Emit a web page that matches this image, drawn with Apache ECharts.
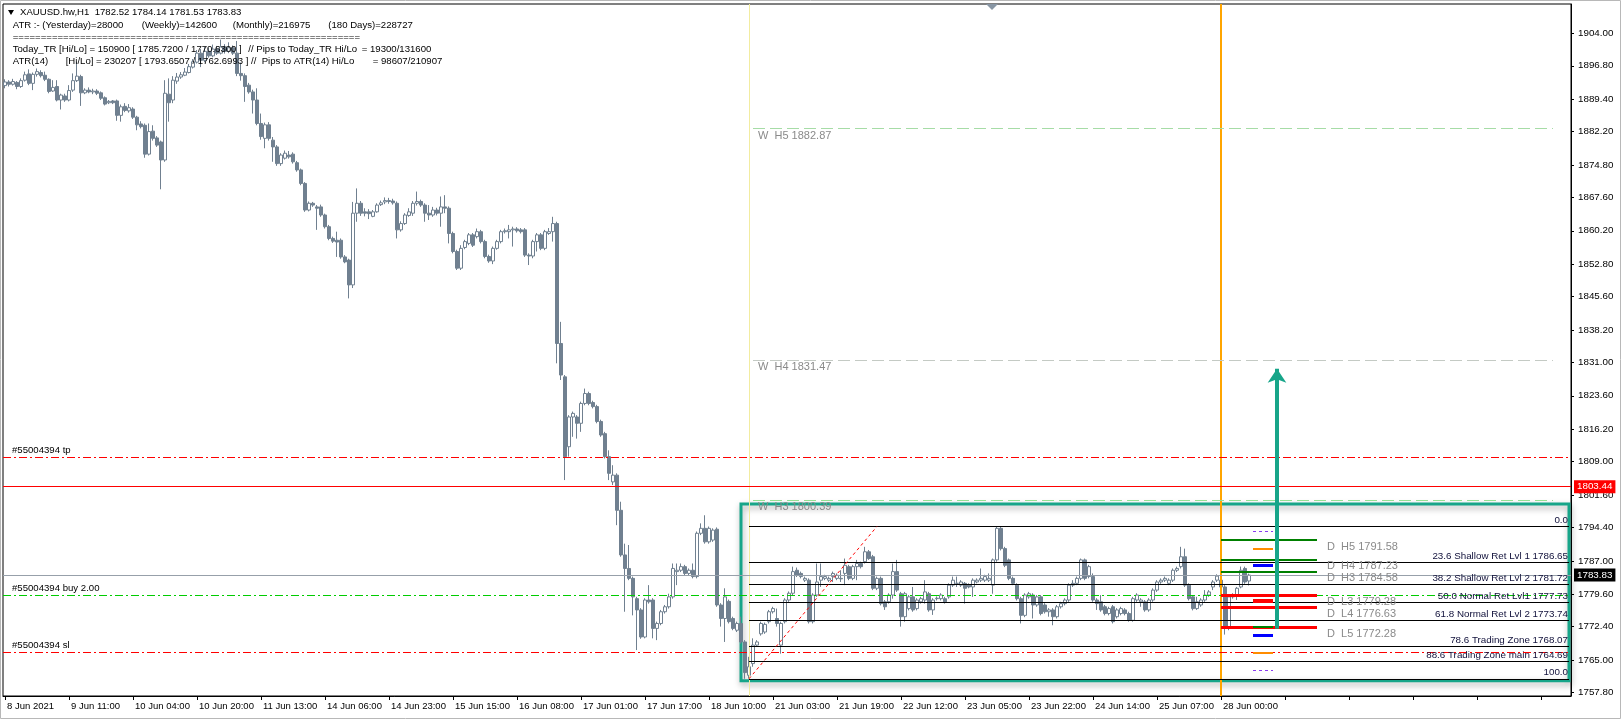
<!DOCTYPE html>
<html><head><meta charset="utf-8">
<script src="https://cdn.jsdelivr.net/npm/echarts@6/dist/echarts.min.js"></script>
<style>html,body{margin:0;padding:0;background:#fff}#c{width:1621px;height:719px}</style>
</head><body><div id="c"></div>
<script>
// ---------- DATA ----------
const timeLabels = ['8 Jun 2021','9 Jun 11:00','10 Jun 04:00','10 Jun 20:00','11 Jun 13:00','14 Jun 06:00','14 Jun 23:00','15 Jun 15:00','16 Jun 08:00','17 Jun 01:00','17 Jun 17:00','18 Jun 10:00','21 Jun 03:00','21 Jun 19:00','22 Jun 12:00','23 Jun 05:00','23 Jun 22:00','24 Jun 14:00','25 Jun 07:00','28 Jun 00:00'];
const priceTicks = [1757.80,1765.00,1772.40,1779.60,1787.00,1794.40,1801.60,1809.00,1816.20,1823.60,1831.00,1838.20,1845.60,1852.80,1860.20,1867.60,1874.80,1882.20,1889.40,1896.80,1904.00];
// [open, close, low, high], one per H1 bar
const ohlc = [
[1892.4,1893.2,1891.8,1893.8],[1893.2,1892.7,1892.2,1893.6],[1892.7,1893.3,1892.4,1893.9],[1893.1,1892.2,1891.6,1893.4],[1892.2,1893.5,1891.9,1894.0],
[1893.6,1894.8,1893.3,1895.5],[1895.0,1892.9,1892.5,1896.0],[1892.9,1894.9,1891.4,1895.3],[1894.9,1895.5,1894.4,1896.2],[1895.3,1894.6,1894.2,1895.8],
[1894.7,1893.8,1893.4,1895.5],[1893.8,1891.1,1890.7,1894.0],[1891.2,1892.0,1891.0,1893.6],[1892.2,1889.2,1888.9,1893.6],[1889.2,1890.3,1887.1,1890.6],
[1890.1,1889.2,1888.8,1890.6],[1889.2,1891.3,1888.9,1892.5],[1891.4,1893.5,1891.0,1895.1],[1893.5,1894.5,1893.2,1897.7],[1894.4,1890.8,1887.9,1894.8],
[1890.8,1891.4,1890.5,1891.8],[1891.4,1891.0,1890.7,1892.0],[1891.0,1891.2,1890.5,1891.7],[1891.2,1890.7,1890.3,1891.6],[1890.8,1889.6,1889.2,1891.1],
[1889.7,1888.3,1888.0,1890.0],[1888.6,1888.9,1888.3,1889.2],[1889.0,1888.6,1888.3,1889.2],[1889.0,1885.8,1884.6,1889.3],[1885.8,1887.7,1884.4,1888.2],
[1887.8,1886.9,1886.5,1888.5],[1886.8,1887.5,1886.4,1888.3],[1887.2,1885.4,1885.0,1887.6],[1885.4,1883.7,1882.5,1885.7],[1883.9,1883.3,1882.9,1884.5],
[1883.6,1877.2,1876.4,1884.0],[1877.2,1882.2,1876.9,1884.0],[1882.3,1880.7,1880.2,1883.6],[1880.8,1879.2,1878.8,1881.2],[1879.9,1875.9,1869.4,1880.2],
[1875.9,1890.7,1875.5,1893.6],[1890.5,1888.6,1884.4,1894.0],[1889.2,1893.6,1888.5,1894.5],[1893.4,1894.3,1892.8,1895.2],[1894.3,1894.8,1893.9,1895.4],
[1894.7,1895.4,1894.5,1896.3],[1895.3,1896.6,1895.1,1897.2],[1896.5,1897.7,1896.2,1898.3],[1897.6,1899.6,1897.3,1900.3],[1899.6,1898.0,1896.5,1900.5],
[1898.0,1900.0,1897.6,1901.0],[1900.0,1899.0,1898.6,1900.8],[1899.0,1900.5,1898.7,1901.5],[1900.5,1899.6,1899.2,1901.2],[1899.6,1901.0,1899.3,1902.6],
[1901.0,1900.0,1899.5,1901.6],[1900.0,1900.8,1899.6,1902.0],[1900.8,1899.6,1899.2,1901.3],[1899.6,1895.1,1894.5,1902.3],[1895.1,1894.6,1893.5,1897.5],
[1894.6,1892.2,1888.8,1895.1],[1892.5,1891.0,1890.6,1893.0],[1891.0,1889.2,1886.2,1891.5],[1889.2,1884.0,1883.6,1891.8],[1884.0,1881.1,1880.4,1886.2],
[1880.7,1883.7,1878.5,1884.2],[1883.7,1880.7,1880.2,1884.3],[1880.3,1878.8,1875.5,1881.0],[1878.8,1875.1,1874.6,1879.2],[1875.1,1877.0,1874.6,1877.4],
[1876.3,1877.4,1876.0,1878.0],[1877.0,1876.6,1876.2,1877.9],[1877.2,1875.5,1875.1,1877.6],[1875.3,1873.7,1873.3,1875.7],[1873.7,1870.7,1870.3,1874.0],
[1870.7,1864.8,1864.4,1871.0],[1864.8,1866.3,1864.5,1866.7],[1866.3,1865.9,1865.5,1866.6],[1865.5,1865.2,1860.4,1865.9],[1865.5,1863.7,1863.3,1866.0],
[1863.7,1861.1,1860.7,1864.0],[1861.1,1858.5,1858.1,1861.5],[1858.5,1857.9,1857.5,1858.9],[1858.1,1857.7,1854.4,1860.0],[1858.1,1854.4,1854.0,1858.5],
[1854.4,1853.3,1853.0,1854.8],[1853.7,1848.2,1845.2,1854.0],[1848.2,1864.1,1847.5,1866.6],[1864.1,1866.3,1862.2,1869.6],[1866.3,1864.1,1863.5,1866.8],
[1864.4,1864.1,1863.4,1865.2],[1864.4,1864.0,1862.8,1865.0],[1863.4,1864.4,1863.2,1864.8],[1864.4,1865.9,1864.2,1866.3],[1866.0,1866.4,1865.7,1866.9],
[1866.6,1866.9,1866.1,1867.6],[1866.9,1866.7,1866.2,1867.5],[1866.8,1866.4,1866.0,1867.3],[1866.3,1860.4,1858.5,1866.7],[1860.4,1861.8,1860.0,1862.3],
[1861.8,1863.7,1861.5,1864.1],[1863.6,1864.4,1863.3,1865.2],[1864.1,1866.3,1863.5,1866.8],[1866.3,1866.7,1865.8,1868.9],[1866.7,1865.9,1865.5,1867.1],
[1865.9,1864.1,1862.2,1866.3],[1864.1,1863.7,1862.6,1865.9],[1863.7,1864.8,1863.3,1865.5],[1864.8,1864.1,1863.6,1865.3],[1864.1,1865.5,1861.1,1867.8],
[1865.5,1865.2,1864.1,1868.1],[1865.2,1859.6,1857.4,1865.6],[1859.6,1855.6,1855.2,1860.0],[1855.6,1851.9,1851.5,1856.0],[1851.9,1856.3,1851.5,1857.0],
[1856.5,1857.8,1856.1,1858.2],[1857.4,1859.3,1857.0,1859.7],[1859.3,1857.0,1856.6,1859.7],[1858.9,1860.0,1858.5,1860.7],[1860.0,1857.8,1857.4,1860.4],
[1857.8,1854.5,1854.1,1858.2],[1854.5,1853.5,1853.1,1854.9],[1853.5,1856.3,1852.8,1856.7],[1856.3,1857.8,1856.0,1858.2],[1857.8,1860.0,1857.4,1860.4],
[1860.0,1860.2,1859.6,1860.7],[1860.0,1860.4,1858.5,1861.5],[1860.4,1860.6,1856.7,1861.1],[1860.6,1860.2,1859.8,1861.0],[1860.4,1860.0,1859.6,1860.8],
[1860.4,1854.8,1854.4,1860.8],[1854.8,1854.6,1852.6,1855.2],[1854.6,1857.8,1854.1,1858.2],[1857.8,1859.3,1855.6,1859.7],[1859.3,1856.3,1855.9,1859.7],
[1856.3,1860.0,1855.9,1860.4],[1859.6,1860.0,1859.3,1860.8],[1860.0,1861.8,1857.8,1863.3],[1861.8,1835.2,1830.8,1862.2],[1835.2,1828.2,1827.1,1840.0],
[1827.8,1810.1,1804.9,1828.2],[1812.3,1818.9,1810.1,1819.3],[1818.9,1819.7,1814.5,1820.1],[1818.9,1817.5,1814.1,1819.3],[1817.5,1821.9,1815.6,1822.3],
[1821.9,1824.1,1821.5,1825.2],[1824.1,1821.9,1821.5,1824.5],[1822.1,1821.2,1820.8,1822.5],[1821.2,1817.9,1817.5,1821.6],[1817.9,1814.9,1814.5,1818.3],
[1815.2,1810.1,1809.7,1815.6],[1810.1,1806.4,1804.9,1811.5],[1804.5,1806.0,1803.8,1808.2],[1806.0,1798.2,1794.9,1806.4],[1798.2,1788.3,1787.9,1800.1],
[1788.3,1785.3,1775.7,1790.8],[1785.3,1783.1,1782.7,1790.5],[1783.1,1779.0,1774.9,1783.5],[1778.6,1776.1,1767.2,1779.0],[1776.1,1770.1,1769.7,1776.5],
[1770.1,1778.3,1769.8,1778.7],[1778.3,1777.9,1777.5,1781.6],[1778.3,1772.0,1769.8,1778.7],[1772.0,1773.1,1769.4,1773.5],[1773.1,1775.7,1772.7,1776.1],
[1775.7,1776.8,1775.3,1777.2],[1776.8,1779.0,1776.4,1779.7],[1779.0,1785.3,1778.6,1786.4],[1784.6,1784.9,1781.6,1786.4],[1784.9,1785.7,1784.5,1786.4],
[1785.7,1784.2,1783.8,1786.1],[1784.2,1784.9,1783.8,1785.3],[1784.9,1783.5,1783.1,1786.4],[1783.5,1793.1,1783.1,1793.5],[1793.1,1794.2,1792.7,1795.3],
[1794.2,1791.2,1790.8,1797.1],[1791.2,1794.2,1790.8,1794.6],[1791.6,1793.8,1791.2,1794.2],[1794.0,1777.2,1776.8,1794.4],[1777.2,1774.2,1772.4,1777.6],
[1774.2,1779.0,1769.0,1780.9],[1778.0,1773.5,1773.1,1778.4],[1774.2,1772.0,1771.6,1774.6],[1771.6,1773.1,1771.2,1773.5],[1773.1,1769.0,1768.6,1774.6],
[1769.0,1762.2,1760.83,1769.4],[1761.6,1763.5,1760.9,1765.7],[1764.2,1768.3,1763.5,1769.8],[1768.3,1769.0,1767.9,1769.4],[1770.8,1773.1,1770.4,1773.5],
[1771.2,1772.9,1770.8,1773.3],[1773.5,1775.7,1773.1,1776.1],[1775.7,1776.4,1775.3,1776.8],[1774.2,1773.1,1772.4,1776.4],[1768.3,1773.1,1766.4,1773.5],
[1773.5,1778.3,1773.1,1778.7],[1778.3,1779.8,1777.9,1780.2],[1779.8,1784.6,1779.4,1785.7],[1784.9,1783.8,1783.4,1785.5],[1784.2,1783.5,1783.1,1784.6],
[1782.7,1783.1,1782.3,1783.5],[1782.7,1773.5,1773.1,1783.1],[1773.5,1779.4,1773.1,1779.8],[1779.4,1782.3,1779.0,1786.4],[1782.7,1783.5,1781.2,1786.4],
[1783.1,1783.5,1782.7,1783.9],[1782.7,1783.1,1782.3,1783.5],[1783.5,1784.2,1782.3,1784.6],[1783.1,1783.8,1782.7,1784.2],[1783.1,1783.0,1782.3,1784.9],
[1784.2,1786.0,1781.6,1787.5],[1785.7,1783.1,1782.7,1786.1],[1783.1,1785.7,1782.7,1786.1],[1785.7,1786.4,1782.7,1787.2],[1786.4,1785.7,1785.3,1786.8],
[1786.8,1789.0,1786.4,1790.1],[1789.0,1787.5,1787.2,1789.4],[1787.9,1780.9,1780.5,1788.3],[1780.9,1783.1,1780.5,1783.5],[1783.1,1777.5,1777.1,1783.5],
[1777.9,1776.8,1776.1,1778.3],[1777.9,1779.4,1777.5,1779.8],[1779.4,1784.6,1778.6,1786.4],[1784.6,1780.5,1780.1,1787.2],[1779.7,1774.6,1772.4,1780.1],
[1774.6,1779.7,1773.5,1780.1],[1776.4,1779.0,1776.0,1779.4],[1779.0,1776.1,1775.7,1781.2],[1776.4,1778.3,1776.0,1778.7],[1777.9,1778.6,1777.5,1779.0],
[1778.3,1780.1,1777.5,1782.7],[1779.7,1776.1,1775.7,1780.1],[1776.1,1778.3,1775.0,1778.7],[1778.6,1778.7,1778.2,1779.1],[1778.6,1779.4,1778.2,1779.8],
[1778.6,1777.9,1777.5,1779.0],[1779.0,1781.6,1778.6,1782.0],[1781.6,1782.7,1781.2,1783.5],[1782.0,1782.0,1781.2,1783.5],[1781.6,1782.3,1781.2,1782.7],
[1782.0,1780.9,1777.5,1782.3],[1781.6,1781.2,1780.9,1782.0],[1781.2,1782.7,1779.0,1783.1],[1782.3,1782.7,1782.0,1783.1],[1782.7,1783.1,1782.3,1785.3],
[1782.7,1783.5,1782.3,1783.9],[1782.7,1783.1,1782.3,1784.2],[1781.6,1787.2,1779.7,1787.5],[1787.2,1794.2,1786.8,1794.62],[1794.2,1789.7,1789.3,1794.6],
[1789.7,1786.0,1785.6,1790.1],[1787.2,1783.1,1782.7,1787.5],[1783.1,1782.0,1781.6,1783.5],[1781.6,1778.6,1778.2,1782.0],[1778.6,1774.9,1773.1,1779.0],
[1774.9,1779.4,1774.5,1779.8],[1779.0,1779.7,1778.6,1780.1],[1779.4,1777.2,1774.2,1779.8],[1777.2,1779.0,1776.8,1779.4],[1779.0,1775.3,1774.9,1779.4],
[1777.2,1775.7,1775.3,1777.6],[1775.7,1776.1,1774.6,1776.5],[1776.1,1774.6,1772.7,1776.5],[1774.6,1776.8,1774.2,1777.2],[1776.8,1777.5,1776.4,1777.9],
[1777.5,1778.3,1777.1,1778.7],[1778.3,1781.6,1777.9,1782.0],[1781.6,1782.0,1781.2,1782.7],[1782.0,1783.1,1781.6,1783.5],[1783.1,1787.2,1782.7,1787.5],
[1787.2,1783.1,1782.7,1787.5],[1783.5,1785.7,1783.1,1786.1],[1783.5,1778.3,1777.9,1784.2],[1778.3,1777.5,1776.1,1778.7],[1777.9,1776.1,1775.7,1779.4],
[1776.8,1775.3,1774.9,1777.2],[1775.3,1776.4,1774.9,1776.8],[1776.8,1773.5,1773.1,1777.2],[1774.6,1776.1,1774.2,1776.5],[1775.3,1776.4,1774.9,1776.8],
[1776.1,1775.3,1774.9,1776.5],[1775.3,1773.8,1773.5,1775.7],[1773.8,1778.6,1773.5,1779.0],[1778.3,1779.4,1777.9,1779.8],[1777.9,1778.3,1776.8,1778.7],
[1777.9,1776.1,1775.7,1778.3],[1776.1,1778.3,1775.7,1778.7],[1778.3,1780.5,1777.9,1780.9],[1780.5,1782.3,1780.1,1782.7],[1782.3,1782.7,1781.9,1783.1],
[1782.7,1783.1,1782.3,1783.5],[1782.0,1782.7,1781.6,1783.1],[1782.7,1784.9,1782.3,1785.3],[1784.9,1785.3,1784.5,1785.7],[1785.7,1787.9,1785.3,1790.1],
[1787.9,1781.6,1781.2,1789.7],[1781.6,1778.6,1778.2,1782.0],[1779.0,1776.4,1776.0,1779.4],[1776.4,1777.9,1776.1,1779.0],[1777.2,1778.3,1776.8,1778.7],
[1778.3,1779.4,1777.9,1780.5],[1779.4,1780.1,1779.0,1780.5],[1781.2,1782.3,1780.5,1782.7],[1782.7,1783.6,1782.3,1784.0],[1782.7,1781.2,1780.8,1783.1],
[1781.2,1772.0,1770.63,1781.6],[1772.4,1779.0,1771.6,1779.4],[1779.0,1779.4,1778.6,1779.8],[1779.4,1780.9,1778.3,1781.2],[1781.2,1784.9,1780.9,1785.72],
[1785.3,1782.3,1781.9,1785.7],[1782.52,1783.83,1781.53,1784.14]
];
const lastPrice = 1783.83;
const orderOpenPrice = 1803.44;
const orderNames = ['#55004394 tp','#55004394 buy 2.00','#55004394 sl'];
const orderPrices = [1810.0, 1779.4, 1766.8];
const weeklyNames = ['W  H5','W  H4','W  H3'];
const weeklyPrices = [1882.87, 1831.47, 1800.39];
const fibPercents = ['0.0','23.6','38.2','50.0','61.8','78.6','88.6','100.0'];
const fibNames = ['', 'Shallow Ret Lvl 1', 'Shallow Ret Lvl 2', 'Normal Ret Lvl1', 'Normal Ret Lvl 2', 'Trading Zone', 'Trading Zone main', ''];
const fibPrices = [1794.62, 1786.65, 1781.72, 1777.73, 1773.74, 1768.07, 1764.69, 1760.83];
const dailyNames = ['D  H5','D  H4','D  H3','D  L3','D  L4','D  L5'];
const dailyPrices = [1791.58, 1787.23, 1784.58, 1779.28, 1776.63, 1772.28];
const atrBandPrices = [1793.65, 1762.70];     // purple
const weekAtrPrices = [1789.6, 1766.6];       // orange
const todayRangePrices = [1786.0, 1770.4];    // blue
const midMarkPrice = [1778.1];                // red
const lowMarkPrice = [1772.3];                // green

// ---------- LAYOUT (bar-slot positions of drawn objects) ----------
const SLOTS = 392;
const L = { fibStart:186, fibEnd:391, weekStart:187, weekEnd:387, dStart:304, dEnd:328,
  mStart:312, mEnd:317, dText:330, arrowIdx:318, arrowFrom:1771.9, arrowTo:1829.6,
  boxL:184, boxR:391, boxTop:1799.6, boxBot:1760.4, dayLine:186, nowLine:304, trendA:186, trendB:218 };

const FONT = '"Liberation Sans", Arial, sans-serif';
const slots = Array.from({length: SLOTS}, (_, i) => String(i));
const dashDot = [8,3,2,3];

const chart = echarts.init(document.getElementById('c'), null, {renderer:'canvas'});

function seg(a, b, p, style, label) {
  const s = {coord:[a, p], lineStyle: style};
  if (label) s.label = label;
  return [s, {coord:[b, p]}];
}

const fibLines = fibPrices.map((p, k) => seg(L.fibStart, L.fibEnd, p, {color:'#000', width:1, type:'solid'},
  {show:true, position:'insideEndTop', distance:1, color:'#10103a', fontSize:9.8, fontFamily:FONT,
   formatter: fibNames[k] ? (fibPercents[k] + ' ' + fibNames[k] + ' ' + p.toFixed(2)) : fibPercents[k]}));

const weekColors = ['#a6dca6','#c4cac4','#94e094'];
const weekLines = weeklyPrices.map((p, k) => seg(L.weekStart, L.weekEnd, p, {color:weekColors[k], width:1, type:[12,5]}));

const dailyLines = dailyPrices.map((p, k) => seg(L.dStart, L.dEnd, p, k < 3 ? {color:'#008000', width:2, type:'solid'} : {color:'#ff0000', width:3, type:'solid'}));

const markers = [].concat(
  atrBandPrices.map(p => seg(L.mStart, L.mEnd, p, {color:'#8a3cf0', width:1, type:[3,3]})),
  weekAtrPrices.map(p => seg(L.mStart, L.mEnd, p, {color:'#ff8c00', width:2, type:'solid'})),
  todayRangePrices.map(p => seg(L.mStart, L.mEnd, p, {color:'#0000ff', width:3, type:'solid'})),
  midMarkPrice.map(p => seg(L.mStart, L.mEnd, p, {color:'#ff0000', width:4, type:'solid'})),
  lowMarkPrice.map(p => seg(L.mStart, L.mEnd, p, {color:'#008000', width:2, type:'solid'}))
);

const option = {
  animation: false,
  backgroundColor: '#ffffff',
  grid: {left:3, right:50, top:4, bottom:23, show:true, borderColor:'#000', borderWidth:1, backgroundColor:'#fff'},
  xAxis: {
    type:'category', data: slots, boundaryGap:true,
    axisLine:{show:true, lineStyle:{color:'#000'}},
    axisTick:{show:true, interval:15, alignWithLabel:true, length:4, lineStyle:{color:'#000'}},
    axisLabel:{interval:15, align:'left', margin:5, padding:[0,0,0,2], color:'#000', fontSize:9.5, fontFamily:FONT,
      formatter:(v, i) => (i % 16 === 0 && timeLabels[i/16]) ? timeLabels[i/16] : ''},
    splitLine:{show:false}
  },
  yAxis: {
    type:'value', position:'right', min:1757.01, max:1910.50,
    axisLine:{show:true, lineStyle:{color:'#000'}},
    axisTick:{show:true, length:3, customValues: priceTicks, lineStyle:{color:'#000'}},
    axisLabel:{customValues: priceTicks, margin:7, color:'#000', fontSize:9.8, fontFamily:FONT, formatter: v => v.toFixed(2)},
    splitLine:{show:false}
  },
  series: [
    { // vertical session lines behind candles
      type:'line', data:[], z:1, silent:true,
      markLine:{silent:true, symbol:'none', label:{show:false},
        data:[
          {xAxis:L.dayLine, lineStyle:{color:'#f2eca0', width:1, type:'solid'}},
          {xAxis:L.nowLine, lineStyle:{color:'#ffa500', width:2, type:'solid'}}
        ]}
    },
    {
      type:'candlestick', name:'XAUUSD.hw,H1', data: ohlc, z:2, barWidth:3,
      itemStyle:{color:'#ffffff', color0:'#708090', borderColor:'#708090', borderColor0:'#708090', borderWidth:1}
    },
    { // horizontal levels and objects
      type:'line', data:[], z:3, silent:true,
      markLine:{silent:true, symbol:'none', label:{show:false},
        data: [
          {yAxis:orderPrices[0], lineStyle:{color:'#ff0000', width:1, type:dashDot}},
          {yAxis:orderPrices[1], lineStyle:{color:'#00cc00', width:1, type:dashDot}},
          {yAxis:orderPrices[2], lineStyle:{color:'#ff0000', width:1, type:dashDot}},
          {yAxis:lastPrice, lineStyle:{color:'#97a0aa', width:1, type:'solid'},
            label:{show:true, position:'end', distance:3, formatter:lastPrice.toFixed(2), color:'#fff', backgroundColor:'#000', padding:[2,3,1,3], fontSize:9.8, fontFamily:FONT}},
          {yAxis:orderOpenPrice, lineStyle:{color:'#ff0000', width:1, type:'solid'},
            label:{show:true, position:'end', distance:3, formatter:orderOpenPrice.toFixed(2), color:'#fff', backgroundColor:'#ff0000', padding:[2,3,1,3], fontSize:9.8, fontFamily:FONT}}
        ].concat(weekLines, fibLines, dailyLines, markers, [
          [{coord:[L.trendA, fibPrices[7]], lineStyle:{color:'#ff0000', width:1, type:[3,3]}}, {coord:[L.trendB, fibPrices[0]]}]
        ])
      },
      markArea:{silent:true,
        itemStyle:{color:'rgba(0,0,0,0)', borderColor:'#17a589', borderWidth:3,
          shadowColor:'rgba(0,0,0,0.35)', shadowBlur:6, shadowOffsetX:1, shadowOffsetY:3},
        data:[[{coord:[L.boxL, L.boxTop]}, {coord:[L.boxR, L.boxBot]}]]}
    },
    { // arrow
      type:'line', data:[], z:4, silent:true,
      markLine:{silent:true, symbol:['none','arrow'], symbolSize:14, label:{show:false},
        lineStyle:{color:'#17a589', width:4, type:'solid'},
        data:[[{coord:[L.arrowIdx, L.arrowFrom]}, {coord:[L.arrowIdx, L.arrowTo]}]]}
    }
  ]
};
chart.setOption(option);

// ---------- texts ----------
const px = (i, p) => chart.convertToPixel({gridIndex:0}, [i, p]);
function txt(x, y, s, opt) {
  opt = opt || {};
  return {type:'text', x:x, y:y, z:100, silent:true,
    style:{text:s, fill:opt.fill || '#000', font:(opt.size || 9.6) + 'px ' + FONT, verticalAlign:'middle', align:'left'}};
}
const g = [];
g.push({type:'rect', shape:{x:0.5, y:0.5, width:1620, height:718}, style:{fill:'none', stroke:'#b8b8b8', lineWidth:1}, z:90, silent:true});
g.push({type:'polygon', shape:{points:[[986,4],[998,4],[992,10]]}, style:{fill:'#8896a4'}, z:90, silent:true});
g.push({type:'polygon', shape:{points:[[8,10],[14,10],[11,15]]}, style:{fill:'#000'}, z:100, silent:true});
g.push(txt(20, 12.5, 'XAUUSD.hw,H1  1782.52 1784.14 1781.53 1783.83'));
g.push(txt(12.7, 25.5, 'ATR :- (Yesterday)=28000'));
g.push(txt(141.7, 25.5, '(Weekly)=142600'));
g.push(txt(232.7, 25.5, '(Monthly)=216975'));
g.push(txt(328.3, 25.5, '(180 Days)=228727'));
g.push(txt(12.7, 37, '=============================================================='));
g.push(txt(12.7, 49.5, 'Today_TR [Hi/Lo] = 150900 [ 1785.7200 / 1770.6300 ]'));
g.push(txt(248.3, 49.5, '// Pips to Today_TR Hi/Lo'));
g.push(txt(361.7, 49.5, '= 19300/131600'));
g.push(txt(12.7, 61, 'ATR(14)'));
g.push(txt(65.7, 61, '[Hi/Lo] = 230207 [ 1793.6507 / 1762.6993 ]'));
g.push(txt(251, 61, '//  Pips to ATR(14) Hi/Lo'));
g.push(txt(372.7, 61, '= 98607/210907'));
orderPrices.forEach((p, k) => { const q = px(0, p); g.push(txt(12, q[1] - 7, orderNames[k])); });
weeklyPrices.forEach((p, k) => { const q = px(L.weekStart, p); g.push(txt(q[0] + 5, q[1] + 7, weeklyNames[k] + ' ' + p.toFixed(2), {fill:'#8a8a8a', size:11})); });
dailyPrices.forEach((p, k) => { const q = px(L.dText, p); g.push(txt(q[0] + 2, q[1] + 6.5, dailyNames[k] + ' ' + p.toFixed(2), {fill:'#8a8a8a', size:11})); });
chart.setOption({graphic: g});
</script>
</body></html>
